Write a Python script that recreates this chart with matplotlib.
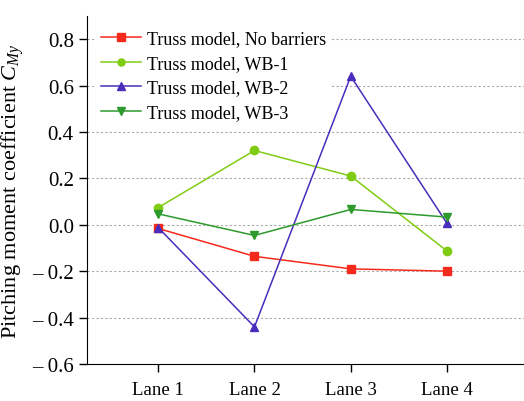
import matplotlib
matplotlib.use('Agg')
import matplotlib.pyplot as plt

# values
lanes = ['Lane 1', 'Lane 2', 'Lane 3', 'Lane 4']
no_barriers = [-0.016, -0.136, -0.19, -0.20]
wb1 = [0.074, 0.32, 0.21, -0.113]
wb2 = [-0.012, -0.44, 0.64, 0.006]
wb3 = [0.047, -0.046, 0.066, 0.033]
yticks = [-0.6, -0.4, -0.2, 0.0, 0.2, 0.4, 0.6, 0.8]
ytick_labels = ['\u2013 0.6', '\u2013 0.4', '\u2013 0.2', '0.0', '0.2', '0.4', '0.6', '0.8']

plt.rcParams['font.family'] = ['Liberation Serif', 'DejaVu Serif']
plt.rcParams['mathtext.fontset'] = 'custom'
plt.rcParams['mathtext.it'] = 'Liberation Serif:italic'
plt.rcParams['mathtext.rm'] = 'Liberation Serif'

fig = plt.figure(figsize=(5.24, 4.02), dpi=100)
ax = fig.add_axes([0.166, 0.092, 0.834, 0.866])

x = [1, 2, 3, 4]
series = [
    (no_barriers, 'Truss model, No barriers', '#f52a1c', 's'),
    (wb1, 'Truss model, WB-1', '#80cc14', 'o'),
    (wb2, 'Truss model, WB-2', '#4a2dbb', '^'),
    (wb3, 'Truss model, WB-3', '#2e9a2e', 'v'),
]
for vals, lab, col, mk in series:
    ax.plot(x, vals, color=col, marker=mk, markersize=6, linewidth=1.1, label=lab, zorder=3)

ax.set_xlim(0.26, 4.8)
ax.set_ylim(-0.6, 0.9)
ax.set_yticks(yticks)
ax.set_yticklabels(ytick_labels)
ax.set_xticks(x)
ax.set_xticklabels(lanes)
for y in yticks[1:]:
    ax.axhline(y, color='#aaaaaa', linestyle=(0, (2, 2)), linewidth=0.8, zorder=1)

ax.spines['top'].set_visible(False)
ax.spines['right'].set_visible(False)
ax.tick_params(direction='out', length=6, width=1)
ax.tick_params(axis='y', labelsize=15)
ax.tick_params(axis='x', labelsize=13.5, pad=6)
ax.set_ylabel('Pitching moment coefficient $C_{My}$', fontsize=16, labelpad=4)

leg = ax.legend(loc='upper left', bbox_to_anchor=(0.0, 1.0), fontsize=13, frameon=True,
                handlelength=2.2, handletextpad=0.3, labelspacing=0.42, borderpad=0.3,
                markerscale=0.85)
leg.get_frame().set_edgecolor('none')
leg.get_frame().set_facecolor('white')
leg.get_frame().set_alpha(1)

fig.savefig('out.png', dpi=100)
